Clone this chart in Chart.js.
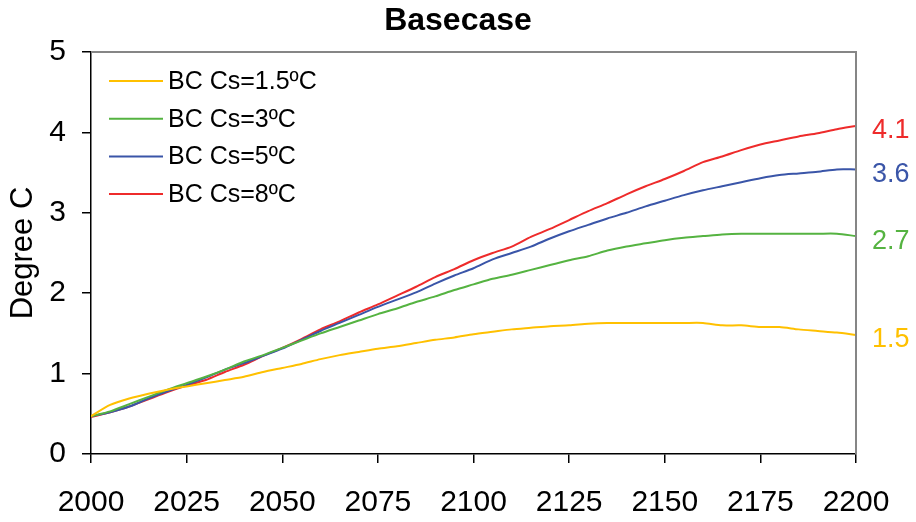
<!DOCTYPE html>
<html>
<head>
<meta charset="utf-8">
<title>Basecase</title>
<script src="https://cdn.jsdelivr.net/npm/chart.js@4"></script>
<style>
  html, body { margin: 0; padding: 0; background: #fff; }
  #wrap { width: 916px; height: 522px; }
</style>
</head>
<body>
<div id="wrap"><canvas id="chartCanvas" width="916" height="522"></canvas></div>
<script>
// ===============================
// data (every 5 years)
// ===============================
const years = [
  2000, 2005, 2010, 2015, 2020, 2025, 2030, 2035, 2040, 2045,
  2050, 2055, 2060, 2065, 2070, 2075, 2080, 2085, 2090, 2095,
  2100, 2105, 2110, 2115, 2120, 2125, 2130, 2135, 2140, 2145,
  2150, 2155, 2160, 2165, 2170, 2175, 2180, 2185, 2190, 2195, 2200
];

const cs15 = [
  0.47, 0.61, 0.69, 0.75, 0.80, 0.84, 0.88, 0.92, 0.96, 1.02,
  1.07, 1.12, 1.18, 1.23, 1.27, 1.31, 1.34, 1.38, 1.42, 1.45,
  1.49, 1.52, 1.55, 1.57, 1.59, 1.60, 1.62, 1.63, 1.63, 1.63,
  1.63, 1.63, 1.63, 1.60, 1.60, 1.58, 1.58, 1.55, 1.53, 1.51, 1.48
];

const cs3 = [
  0.47, 0.53, 0.62, 0.71, 0.80, 0.88, 0.96, 1.05, 1.15, 1.23,
  1.32, 1.41, 1.50, 1.58, 1.66, 1.74, 1.81, 1.89, 1.96, 2.04,
  2.11, 2.18, 2.23, 2.29, 2.35, 2.41, 2.46, 2.53, 2.58, 2.62,
  2.66, 2.69, 2.71, 2.73, 2.74, 2.74, 2.74, 2.74, 2.74, 2.74, 2.71
];

const cs5 = [
  0.47, 0.52, 0.59, 0.69, 0.78, 0.86, 0.95, 1.05, 1.13, 1.22,
  1.31, 1.42, 1.53, 1.63, 1.73, 1.83, 1.92, 2.01, 2.12, 2.22,
  2.31, 2.42, 2.50, 2.58, 2.68, 2.77, 2.85, 2.93, 3.00, 3.08,
  3.15, 3.22, 3.28, 3.33, 3.38, 3.43, 3.47, 3.49, 3.51, 3.54, 3.54
];

const cs8 = [
  0.46, 0.52, 0.59, 0.68, 0.77, 0.85, 0.92, 1.02, 1.11, 1.22,
  1.32, 1.43, 1.55, 1.65, 1.76, 1.86, 1.97, 2.08, 2.20, 2.30,
  2.41, 2.50, 2.58, 2.70, 2.80, 2.91, 3.02, 3.12, 3.23, 3.33,
  3.42, 3.52, 3.63, 3.70, 3.78, 3.85, 3.90, 3.95, 3.99, 4.04, 4.08
];

const seriesLabels = ["BC Cs=1.5ºC", "BC Cs=3ºC", "BC Cs=5ºC", "BC Cs=8ºC"];
const endLabels = ["1.5", "2.7", "3.6", "4.1"];
const seriesColors = ["#FFC000", "#55B341", "#3A55A8", "#EE2B2B"];

const xTicks = [2000, 2025, 2050, 2075, 2100, 2125, 2150, 2175, 2200];
const yTicks = [0, 1, 2, 3, 4, 5];

const FONT = "'Liberation Sans', Arial, Helvetica, sans-serif";
Chart.defaults.font.family = FONT;
Chart.defaults.color = "#000";

function toPoints(values) {
  return years.map((y, i) => ({ x: y, y: values[i] }));
}

const allSeries = [cs15, cs3, cs5, cs8];

// ===============================
// legend + end labels + frame
// ===============================
const decorPlugin = {
  id: "decor",
  afterDatasetsDraw(chart) {
    const c = chart.ctx;
    const area = chart.chartArea;
    const ys = chart.scales.y;

    // gray frame on top and right
    c.save();
    c.strokeStyle = "#868686";
    c.lineWidth = 2;
    c.beginPath();
    c.moveTo(area.left, area.top);
    c.lineTo(area.right, area.top);
    c.lineTo(area.right, area.bottom);
    c.stroke();
    c.restore();

    // legend in top-left corner
    c.save();
    c.font = "25px " + FONT;
    c.textBaseline = "middle";
    chart.data.datasets.forEach((ds, i) => {
      const y = area.top + 29 + i * 37.7;
      c.strokeStyle = ds.borderColor;
      c.lineWidth = 2;
      c.beginPath();
      c.moveTo(area.left + 18, y);
      c.lineTo(area.left + 72, y);
      c.stroke();
      c.fillStyle = "#000";
      c.fillText(ds.label, area.left + 77, y + 1);
    });
    c.restore();

    // value labels right of plot
    c.save();
    c.font = "27px " + FONT;
    c.textBaseline = "middle";
    chart.data.datasets.forEach((ds, i) => {
      const last = allSeries[i][allSeries[i].length - 1];
      c.fillStyle = ds.borderColor;
      c.fillText(endLabels[i], area.right + 16, ys.getPixelForValue(last) + 5);
    });
    c.restore();
  }
};

const ctx = document.getElementById("chartCanvas").getContext("2d");

const chart = new Chart(ctx, {
  type: "line",
  data: {
    datasets: allSeries.map((vals, i) => ({
      label: seriesLabels[i],
      data: toPoints(vals),
      borderColor: seriesColors[i],
      backgroundColor: seriesColors[i],
      borderWidth: 2,
      pointRadius: 0,
      tension: 0.25,
      fill: false
    }))
  },
  options: {
    responsive: false,
    animation: false,
    devicePixelRatio: 1,
    layout: { padding: 0 },
    plugins: {
      legend: { display: false },
      tooltip: { enabled: false },
      title: {
        display: true,
        text: "Basecase",
        font: { size: 32, weight: "bold" },
        color: "#000",
        padding: { top: 2, bottom: 11.6 }
      }
    },
    scales: {
      x: {
        type: "linear",
        min: 2000,
        max: 2200,
        afterBuildTicks: s => { s.ticks = xTicks.map(v => ({ value: v })); },
        afterFit: s => { s.height = 68; },
        ticks: {
          font: { size: 30 },
          color: "#000",
          padding: 22,
          maxRotation: 0,
          callback: v => String(v)
        },
        grid: {
          drawOnChartArea: false,
          drawTicks: true,
          tickLength: 9,
          color: "#000",
          lineWidth: 1.5
        },
        border: { display: true, color: "#000", width: 1.5 }
      },
      y: {
        min: 0,
        max: 5,
        afterBuildTicks: s => { s.ticks = yTicks.map(v => ({ value: v })); },
        afterFit: s => { s.width = 91; },
        ticks: {
          font: { size: 30 },
          color: "#000",
          padding: 16
        },
        grid: {
          drawOnChartArea: false,
          drawTicks: true,
          tickLength: 9,
          color: "#000",
          lineWidth: 1.5
        },
        border: { display: true, color: "#000", width: 1.5 },
        title: {
          display: true,
          text: "Degree C",
          font: { size: 31 },
          color: "#000",
          padding: { top: 5, bottom: 0 }
        }
      },
      // empty right-hand axis: only reserves room for the value labels
      yRight: {
        position: "right",
        min: 0,
        max: 5,
        display: true,
        afterFit: s => { s.width = 60; },
        ticks: { display: false },
        grid: { display: false, drawTicks: false },
        border: { display: false }
      }
    }
  },
  plugins: [decorPlugin]
});
</script>
</body>
</html>
